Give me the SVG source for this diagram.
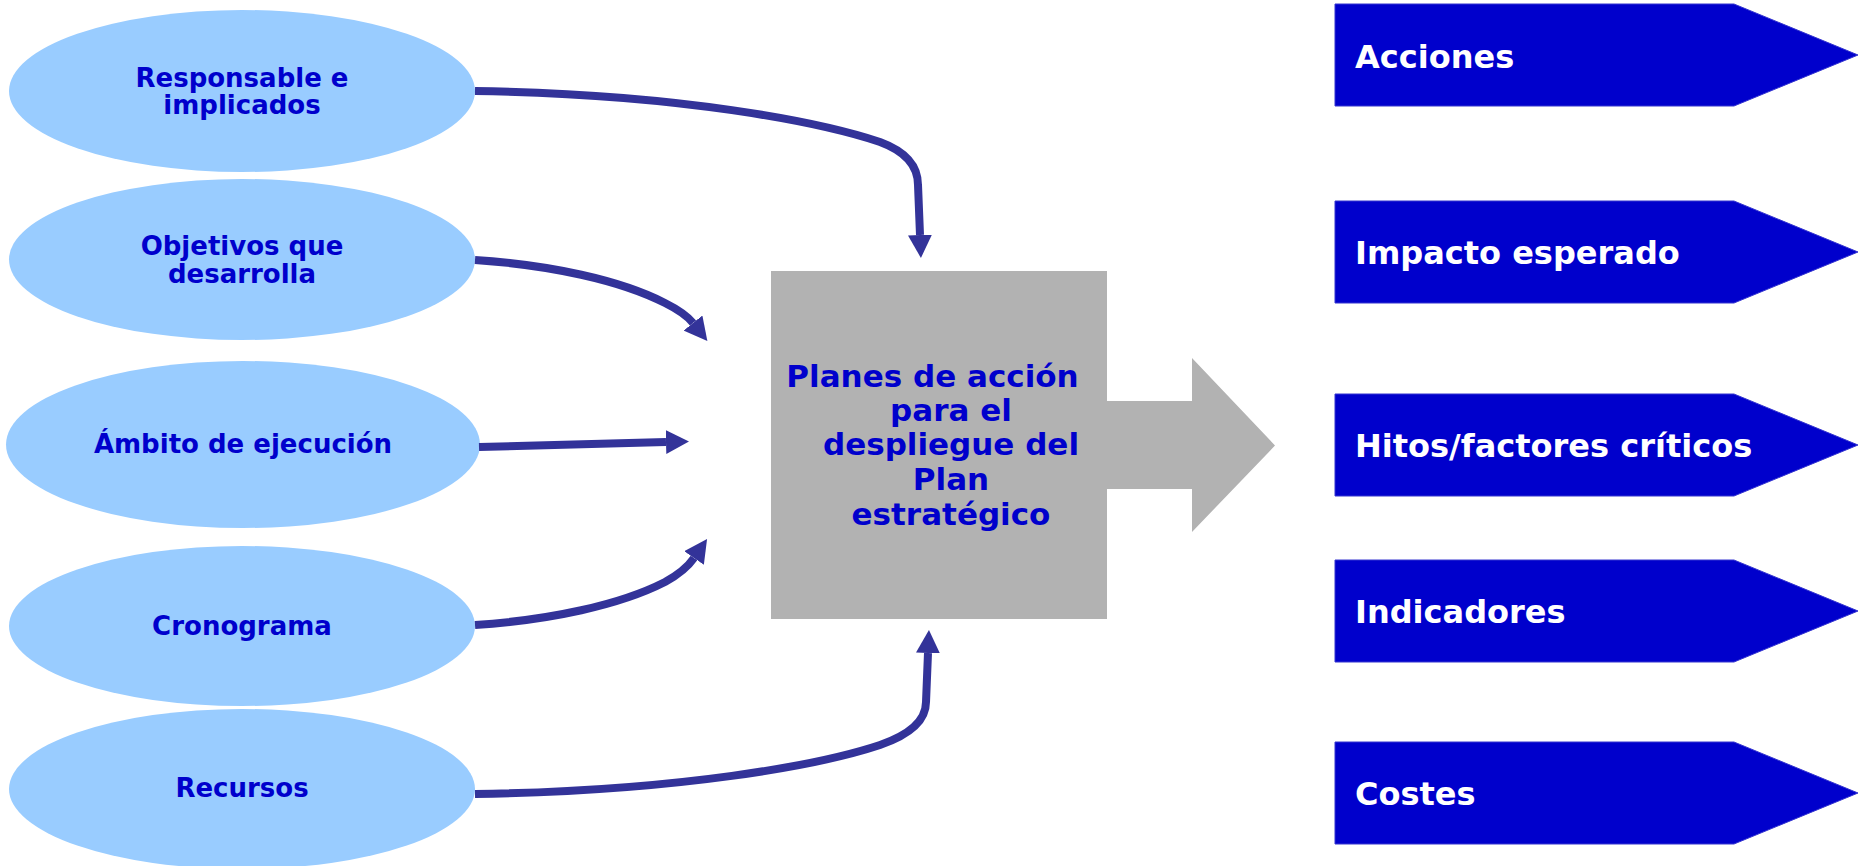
<svg xmlns="http://www.w3.org/2000/svg" width="1858" height="866" viewBox="0 0 1858 866">
<defs>
<style>
.ell{fill:#99CCFF;}
.et{font-family:"DejaVu Sans","Verdana",sans-serif;font-weight:bold;font-size:26px;fill:#0000CC;text-anchor:middle;}
.ct{font-family:"DejaVu Sans","Verdana",sans-serif;font-weight:bold;font-size:31px;fill:#0000CC;text-anchor:middle;}
.rs{fill:#0000CC;stroke:#3434D0;stroke-width:1;}
.rt{font-family:"DejaVu Sans","Verdana",sans-serif;font-weight:bold;font-size:32px;fill:#FFFFFF;}
.gray{fill:#B2B2B2;}
.conn{fill:none;stroke:#333399;stroke-width:8;marker-end:url(#ah);}
</style>
<marker id="ah" markerUnits="userSpaceOnUse" viewBox="0 0 23 24" markerWidth="23" markerHeight="24" refX="0" refY="12" orient="auto">
<path d="M0,0 L23,12 L0,24 z" fill="#333399"/>
</marker>
</defs>
<rect width="1858" height="866" fill="#FFFFFF"/>

<g id="n-responsable">
<ellipse class="ell" cx="242" cy="91" rx="233" ry="81"/>
<text class="et" x="242" y="86.5">Responsable e</text>
<text class="et" x="242" y="113.5">implicados</text>
</g>
<g id="n-objetivos">
<ellipse class="ell" cx="242" cy="259.5" rx="233" ry="80.5"/>
<text class="et" x="242" y="254.5">Objetivos que</text>
<text class="et" x="242" y="283">desarrolla</text>
</g>
<g id="n-ambito">
<ellipse class="ell" cx="243" cy="444.5" rx="237" ry="83.5"/>
<text class="et" x="243" y="453">Ámbito de ejecución</text>
</g>
<g id="n-cronograma">
<ellipse class="ell" cx="242" cy="626" rx="233" ry="80"/>
<text class="et" x="242" y="635">Cronograma</text>
</g>
<g id="n-recursos">
<ellipse class="ell" cx="242" cy="789" rx="233" ry="80"/>
<text class="et" x="242" y="797">Recursos</text>
</g>

<g id="n-planes">
<rect class="gray" x="771" y="271" width="336" height="348"/>
<polygon class="gray" points="1106,401 1192,401 1192,358 1275,445.5 1192,532 1192,489 1106,489"/>
<text class="ct" x="932.5" y="386.7">Planes de acción</text>
<text class="ct" x="951" y="420.7">para el</text>
<text class="ct" x="951" y="455">despliegue del</text>
<text class="ct" x="951" y="490">Plan</text>
<text class="ct" x="951" y="525">estratégico</text>
</g>

<g id="n-acciones">
<polygon class="rs" points="1335,4 1734,4 1858,55 1734,106 1335,106"/>
<text class="rt" x="1355" y="68">Acciones</text>
</g>
<g id="n-impacto">
<polygon class="rs" points="1335,201 1734,201 1858,252 1734,303 1335,303"/>
<text class="rt" x="1355" y="264">Impacto esperado</text>
</g>
<g id="n-hitos">
<polygon class="rs" points="1335,394 1734,394 1858,445 1734,496 1335,496"/>
<text class="rt" x="1355" y="457">Hitos/factores críticos</text>
</g>
<g id="n-indicadores">
<polygon class="rs" points="1335,560 1734,560 1858,611 1734,662 1335,662"/>
<text class="rt" x="1355" y="623">Indicadores</text>
</g>
<g id="n-costes">
<polygon class="rs" points="1335,742 1734,742 1858,793 1734,844 1335,844"/>
<text class="rt" x="1355" y="805">Costes</text>
</g>

<g id="connectors">
<path class="conn" d="M475,91 C680,94 820,122 880,142 Q918,156 918,185 L920,235"/>
<path class="conn" d="M475,260 C550,265 620,280 665,303 Q685,313 693,323"/>
<path class="conn" d="M479,447 L666,442"/>
<path class="conn" d="M475,625 C550,620 620,605 665,582 Q685,571 694,558"/>
<path class="conn" d="M475,794 C680,791 820,765 880,745 Q926,729 926,702 L928,653"/>
</g>
</svg>
